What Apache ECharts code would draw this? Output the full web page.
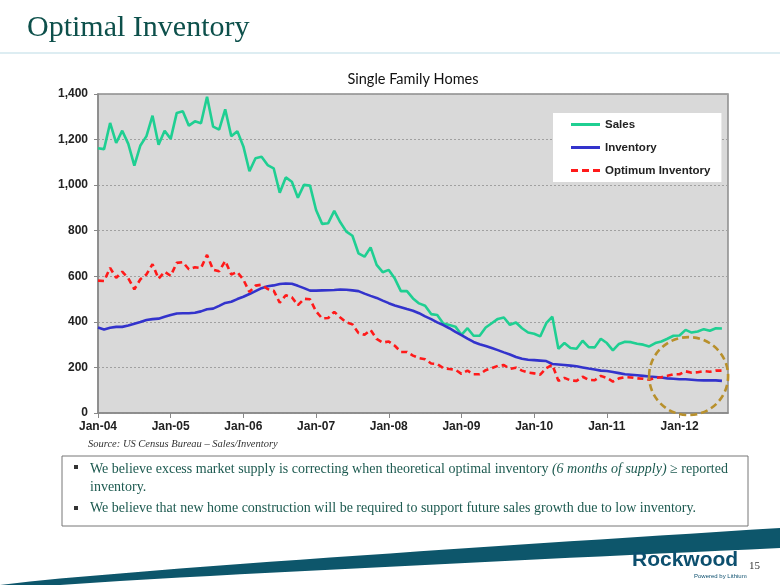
<!DOCTYPE html>
<html><head><meta charset="utf-8">
<script src="https://cdn.jsdelivr.net/npm/echarts@6/dist/echarts.min.js"></script>
<style>html,body{margin:0;padding:0;background:#fff}#c{width:780px;height:585px}</style>
</head><body><div id="c"></div>
<script>
// ---- data (monthly, Jan-04 .. Aug-12), thousands of units ----
const monthNames = ['Jan','Feb','Mar','Apr','May','Jun','Jul','Aug','Sep','Oct','Nov','Dec'];
const categories = [];
for (let y = 4; y <= 12; y++) for (let m = 0; m < 12; m++) {
  if (y === 12 && m > 8) break;
  categories.push(monthNames[m] + '-' + String(y).padStart(2, '0'));
}
const sales = [1162,1158,1273,1185,1239,1181,1086,1174,1215,1305,1177,1239,
  1203,1317,1324,1261,1280,1272,1388,1257,1244,1333,1215,1237,
  1170,1061,1118,1125,1088,1074,967,1034,1015,945,1001,998,
  891,830,833,887,837,796,778,701,686,727,650,618,
  628,590,535,535,503,481,471,434,430,393,386,379,
  343,372,339,339,375,394,413,419,387,397,372,353,
  348,336,394,423,282,307,285,282,317,289,288,326,
  307,275,303,313,311,304,300,292,307,314,326,339,
  340,365,353,358,368,361,372,371];
const inventory = [375,366,374,378,378,384,392,399,408,412,414,422,
  430,437,438,438,440,446,455,458,470,483,488,500,
  510,522,535,548,556,560,566,568,567,558,548,537,
  537,538,539,540,542,541,538,535,524,514,505,493,
  482,472,464,456,449,438,424,412,398,386,372,356,
  342,326,312,302,294,285,276,266,257,246,238,234,
  232,230,228,215,213,211,208,205,200,195,191,186,
  184,180,175,170,168,166,163,160,158,156,152,150,
  148,148,146,144,143,144,143,141];
const optimum = [581,579,637,593,620,591,543,587,608,653,589,620,
  602,659,662,631,640,636,694,629,622,667,608,619,
  585,531,559,563,544,537,484,517,508,473,501,499,
  446,415,417,444,419,398,389,351,343,364,325,309,
  314,295,268,268,252,241,236,217,215,197,193,190,
  172,186,170,170,188,197,207,210,194,199,186,177,
  174,168,197,212,141,154,143,141,159,145,144,163,
  154,138,152,157,156,152,150,146,154,157,163,170,
  170,183,177,179,184,181,186,186];
const yTicks = [0,200,400,600,800,1000,1200,1400];

const chart = echarts.init(document.getElementById('c'), null, {renderer:'canvas'});
const teal = '#1d5a50';
const dashIcon = 'path://M0,0h7v3h-7z M11,0h7v3h-7z M22,0h7v3h-7z';
const option = {
  animation: false,
  backgroundColor: '#ffffff',
  title: {
    text: 'Single Family Homes', left: 408, top: 67, textAlign: 'center',
    textStyle: {fontFamily: 'Lato', fontSize: 14.5, fontWeight: 'normal', color: '#111'}
  },
  grid: {left: 98, right: 52, top: 94, bottom: 172, show: true,
    backgroundColor: '#d9d9d9', borderColor: '#8c8c8c', borderWidth: 1.5},
  legend: {
    orient: 'vertical', left: 553, top: 113,
    backgroundColor: '#ffffff', padding: [5, 11, 5, 18], itemGap: 10,
    itemWidth: 29, itemHeight: 3,
    textStyle: {fontFamily: 'Liberation Sans', fontWeight: 'bold', fontSize: 11.5, color: '#222', lineHeight: 13},
    data: [{name: 'Sales', icon: 'rect'}, {name: 'Inventory', icon: 'rect'},
           {name: 'Optimum Inventory', icon: dashIcon}]
  },
  xAxis: {
    type: 'category', data: categories, boundaryGap: false,
    axisLine: {lineStyle: {color: '#888', width: 1.5}},
    axisTick: {show: true, length: 5, interval: (i) => i % 12 === 0, lineStyle: {color: '#888'}},
    axisLabel: {interval: (i) => i % 12 === 0, margin: 8,
      fontFamily: 'Liberation Sans', fontWeight: 'bold', fontSize: 12, color: '#222'},
    splitLine: {show: false}
  },
  yAxis: {
    type: 'value', min: 0, max: 1400, interval: 200,
    axisLine: {show: true, lineStyle: {color: '#888', width: 1.5}},
    axisTick: {show: true, length: 4, lineStyle: {color: '#888'}},
    axisLabel: {margin: 10, fontFamily: 'Liberation Sans', fontWeight: 'bold', fontSize: 12, color: '#222',
      formatter: (v) => yTicks.includes(v) ? v.toLocaleString('en-US') : ''},
    splitLine: {show: true, lineStyle: {color: '#a0a0a0', type: [2, 2], width: 1}}
  },
  series: [
    {name: 'Sales', type: 'line', data: sales, symbol: 'none', smooth: false,
      lineStyle: {color: '#1fcf92', width: 2.6}, itemStyle: {color: '#1fcf92'}},
    {name: 'Inventory', type: 'line', data: inventory, symbol: 'none',
      lineStyle: {color: '#3333cc', width: 2.6}, itemStyle: {color: '#3333cc'}},
    {name: 'Optimum Inventory', type: 'line', data: optimum, symbol: 'none',
      lineStyle: {color: '#ff1a1a', width: 2.6, type: [6, 4]}, itemStyle: {color: '#ff1a1a'}}
  ]
};
chart.setOption(option);

// decorative swoosh at the slide bottom
const swTop = [], swBot = [];
for (let i = 0; i <= 26; i++) {
  const x = i * 30;
  const t = x / 780;
  swTop.push([x, 585 - 57 * Math.pow(t, 0.85)]);
}
for (let i = 26; i >= 2; i--) {
  const x = i * 30;
  const t = (x - 60) / 720;
  swBot.push([x, 585 - 37 * Math.pow(t, 0.9)]);
}
const c = chart.convertToPixel({gridIndex: 0}, [97, 162]);
chart.setOption({
  graphic: [
    {type: 'text', x: 27, y: 13, style: {text: 'Optimal Inventory',
      font: '30px "Liberation Serif"', fill: '#0d504b'}},
    {type: 'line', shape: {x1: 0, y1: 53, x2: 780, y2: 53}, style: {stroke: '#bcdce6', lineWidth: 1.2}},
    {type: 'ellipse', shape: {cx: c[0] + 3, cy: c[1], rx: 39.5, ry: 39}, z: 100,
      style: {fill: 'none', stroke: '#b8902c', lineWidth: 2.6, lineDash: [7, 4]}},
    {type: 'text', x: 88, y: 439, style: {text: 'Source: US Census Bureau \u2013 Sales/Inventory',
      font: 'italic 10.5px "Liberation Serif"', fill: '#333'}},
    {type: 'rect', shape: {x: 62, y: 456, width: 686, height: 70},
      style: {fill: 'none', stroke: '#777', lineWidth: 1}},
    {type: 'rect', shape: {x: 74, y: 465, width: 4, height: 4}, style: {fill: '#333'}},
    {type: 'rect', shape: {x: 74, y: 506, width: 4, height: 4}, style: {fill: '#333'}},
    {type: 'text', x: 90, y: 460, style: {
      text: '{n|We believe excess market supply is correcting when theoretical optimal inventory }{i|(6 months of supply)}{n| \u2265 reported}\n{n|inventory.}',
      rich: {n: {font: '14px "Liberation Serif"', fill: teal, lineHeight: 18},
             i: {font: 'italic 14px "Liberation Serif"', fill: teal, lineHeight: 18}}}},
    {type: 'text', x: 90, y: 501, style: {
      text: 'We believe that new home construction will be required to support future sales growth due to low inventory.',
      font: '14px "Liberation Serif"', fill: teal}},
    {type: 'polygon', shape: {points: swTop.concat(swBot)}, style: {fill: '#0d566b'}},
    {type: 'text', x: 632, y: 550, style: {text: 'Rockwood',
      font: 'bold 21px "Liberation Sans"', fill: '#0c4f6e'}},
    {type: 'text', x: 694, y: 573, style: {text: 'Powered by Lithium',
      font: '6px "Liberation Sans"', fill: '#0c4f6e'}},
    {type: 'text', x: 749, y: 561, style: {text: '15', font: '11px "Liberation Serif"', fill: '#333'}}
  ]
});
</script></body></html>
